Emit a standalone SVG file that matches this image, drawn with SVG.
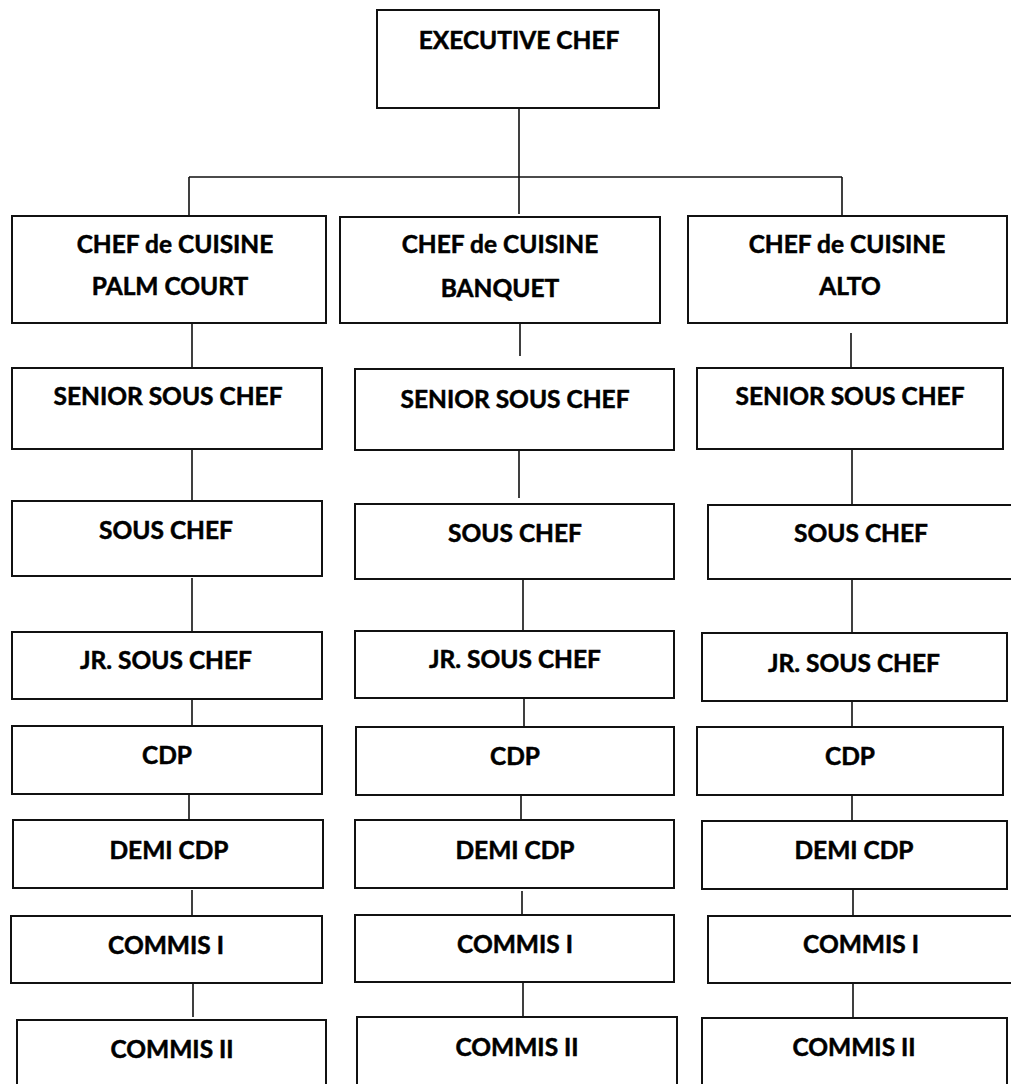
<svg xmlns="http://www.w3.org/2000/svg" width="1011" height="1084" viewBox="0 0 1011 1084">
<style>
.box{fill:#fff;stroke:#111;stroke-width:2}
.t{font-family:Lato,"Liberation Sans",sans-serif;font-weight:bold;font-size:24.5px;fill:#000;stroke:#000;stroke-width:0.5;text-anchor:middle}
.c{stroke:#111;stroke-width:1.6;fill:none}
</style>
<rect width="1011" height="1084" fill="#fff"/>
<g id="connectors" class="c">
<path d="M519 108V214M189 177H842M189 177V216M842 177V216"/>
<path d="M192 323V368M192 449V501M192 578V632M192 699V726M189 794V820M192 890V916M193 980V1017"/>
<path d="M520 323V356M519 450V498M523 579V631M524 698V727M521 795V820M522 891V915M523 982V1020"/>
<path d="M851 333V368M852 449V509M852 579V633M852 701V727M852 795V821M853 889V916M853 982V1018"/>
</g>
<g id="executive"><rect class="box" x="377" y="10" width="282" height="98"/><text class="t" x="519" y="49">EXECUTIVE CHEF</text></g>
<g id="cdc_palm"><rect class="box" x="12" y="216" width="314" height="107"/><text class="t" x="175" y="253">CHEF de CUISINE</text><text class="t" x="170" y="295">PALM COURT</text></g>
<g id="cdc_banquet"><rect class="box" x="340" y="217" width="320" height="106"/><text class="t" x="500" y="253">CHEF de CUISINE</text><text class="t" x="500" y="297">BANQUET</text></g>
<g id="cdc_alto"><rect class="box" x="688" y="216" width="319" height="107"/><text class="t" x="847" y="253">CHEF de CUISINE</text><text class="t" x="850" y="295">ALTO</text></g>
<g id="senior1"><rect class="box" x="12" y="368" width="310" height="81"/><text class="t" x="168" y="405">SENIOR SOUS CHEF</text></g>
<g id="senior2"><rect class="box" x="355" y="369" width="319" height="81"/><text class="t" x="515" y="408">SENIOR SOUS CHEF</text></g>
<g id="senior3"><rect class="box" x="697" y="368" width="306" height="81"/><text class="t" x="850" y="405">SENIOR SOUS CHEF</text></g>
<g id="sous1"><rect class="box" x="12" y="501" width="310" height="75"/><text class="t" x="166" y="539">SOUS CHEF</text></g>
<g id="sous2"><rect class="box" x="355" y="504" width="319" height="75"/><text class="t" x="515" y="542">SOUS CHEF</text></g>
<g id="sous3"><rect class="box" x="708" y="505" width="306" height="74"/><text class="t" x="861" y="542">SOUS CHEF</text></g>
<g id="jr1"><rect class="box" x="12" y="632" width="310" height="67"/><text class="t" x="166" y="669">JR. SOUS CHEF</text></g>
<g id="jr2"><rect class="box" x="355" y="631" width="319" height="67"/><text class="t" x="515" y="668">JR. SOUS CHEF</text></g>
<g id="jr3"><rect class="box" x="702" y="633" width="305" height="68"/><text class="t" x="854" y="672">JR. SOUS CHEF</text></g>
<g id="cdp1"><rect class="box" x="12" y="726" width="310" height="68"/><text class="t" x="167" y="764">CDP</text></g>
<g id="cdp2"><rect class="box" x="356" y="727" width="318" height="68"/><text class="t" x="515" y="765">CDP</text></g>
<g id="cdp3"><rect class="box" x="697" y="727" width="306" height="68"/><text class="t" x="850" y="765">CDP</text></g>
<g id="demi1"><rect class="box" x="13" y="820" width="310" height="68"/><text class="t" x="169" y="859">DEMI CDP</text></g>
<g id="demi2"><rect class="box" x="355" y="820" width="319" height="68"/><text class="t" x="515" y="859">DEMI CDP</text></g>
<g id="demi3"><rect class="box" x="702" y="821" width="305" height="68"/><text class="t" x="854" y="859">DEMI CDP</text></g>
<g id="commis1a"><rect class="box" x="11" y="916" width="311" height="67"/><text class="t" x="166" y="954">COMMIS I</text></g>
<g id="commis1b"><rect class="box" x="355" y="915" width="319" height="67"/><text class="t" x="515" y="953">COMMIS I</text></g>
<g id="commis1c"><rect class="box" x="708" y="916" width="306" height="67"/><text class="t" x="861" y="953">COMMIS I</text></g>
<g id="commis2a"><rect class="box" x="17" y="1020" width="309" height="80"/><text class="t" x="172" y="1058">COMMIS II</text></g>
<g id="commis2b"><rect class="box" x="357" y="1017" width="320" height="83"/><text class="t" x="517" y="1056">COMMIS II</text></g>
<g id="commis2c"><rect class="box" x="702" y="1018" width="305" height="82"/><text class="t" x="854" y="1056">COMMIS II</text></g>
</svg>
